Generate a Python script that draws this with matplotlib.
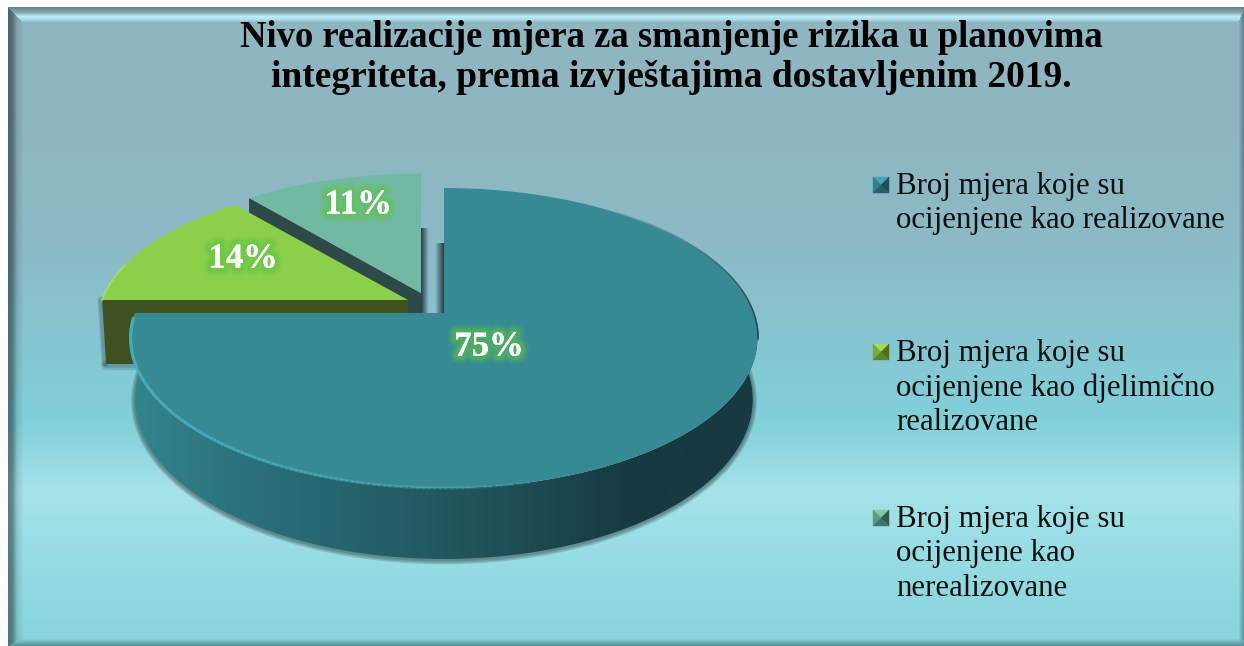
import numpy as np
import matplotlib
matplotlib.use("Agg")
import matplotlib.pyplot as plt
from matplotlib.patches import Polygon
from matplotlib.colors import LinearSegmentedColormap
import matplotlib.patheffects as pe

# ---------- data ----------
title_lines = ["Nivo realizacije mjera za smanjenje rizika u planovima",
               "integriteta, prema izvještajima dostavljenim 2019."]
categories = ["Broj mjera koje su\nocijenjene kao realizovane",
              "Broj mjera koje su\nocijenjene kao djelimično\nrealizovane",
              "Broj mjera koje su\nocijenjene kao\nnerealizovane"]
values = [75, 14, 11]
face_colors = ["#378a94", "#8ccf4b", "#72b9a4"]
wall_colors = [None, "#3d5220", "#2e4a48"]
legend_bevels = [("#4aa3b2", "#2f7f8c", "#1d4d55", "#25606a"),
                 ("#a5d85a", "#7aa83a", "#4f6e22", "#5f8329"),
                 ("#86c4b0", "#5c9a88", "#2f5a50", "#3f7567")]

W, H = 1244, 646
fig = plt.figure(figsize=(W / 100, H / 100), dpi=100, facecolor="white")
ax = fig.add_axes([0, 0, 1, 1])
ax.set_xlim(0, W)
ax.set_ylim(H, 0)
ax.axis("off")

# ---------- background with bevelled frame ----------
L, T, R, B = 8, 7, 1244, 646
wl, wt, wr, wb = 15.0, 15.0, 5.0, 7.0
stops_y = [0, 110, 250, 420, 490, 560, 646]
stops_c = np.array([[143, 181, 192], [143, 181, 192], [139, 187, 199],
                    [129, 208, 217], [166, 226, 233], [150, 220, 227], [135, 212, 221]], float)
yy = np.arange(H)
bg = np.stack([np.interp(yy, stops_y, stops_c[:, i]) for i in range(3)], axis=1)
img = np.repeat(bg[:, None, :], W, axis=1)
X, Y = np.meshgrid(np.arange(W), np.arange(H))
fl, ft, fr, fb = (X - L) / wl, (Y - T) / wt, (R - 1 - X) / wr, (B - 1 - Y) / wb
fmin = np.minimum.reduce([fl, ft, fr, fb])
mask = (fmin >= 0) & (fmin < 1)
top = mask & (ft == fmin)
left = mask & (fl == fmin) & ~top
right = mask & (fr == fmin) & ~top
bottom = mask & (fb == fmin) & ~top & ~left & ~right
c_top = np.interp(fmin, [0, 0.35, 0.6, 0.8, 1], [0.72, 0.95, 1.3, 1.22, 1.0])
c_left = np.interp(fmin, [0, 0.3, 0.55, 1], [0.55, 0.62, 0.88, 1.0])
c_right = np.interp(fmin, [0, 0.6, 1], [0.72, 0.88, 1.0])
c_bot = np.interp(fmin, [0, 0.5, 1], [0.68, 0.85, 1.0])
for m, c in ((top, c_top), (left, c_left), (right, c_right), (bottom, c_bot)):
    img[m] = np.clip(img[m] * c[m][:, None], 0, 255)
img[fmin < 0] = 255
ax.imshow(img.astype(np.uint8), extent=(0, W, H, 0), aspect="auto", zorder=0, interpolation="bilinear")


# ---------- perspective pie geometry ----------
K = 1 / 6
A, BB = 309.0, 145.8


def proj(theta_deg, cx, cy, a=A, b=BB):
    th = np.radians(theta_deg)
    u, v = np.sin(th), np.cos(th)
    d = 1 + K * v
    return np.column_stack([cx + a * u / d, cy - b * v / d])


cum = np.cumsum([0] + values) / sum(values) * 360
angles = [(cum[i], cum[i + 1]) for i in range(len(values))]


def arc(i, cx, cy, a=A, b=BB):
    return proj(np.linspace(angles[i][0], angles[i][1], 200), cx, cy, a, b)


apexes = [(444, 313), (408, 300), (421, 293)]
DEPTH = 64


def soft_line(pts, z, color="#2a3a40", widths=(7, 5, 3), alpha=0.18):
    for w in widths:
        ax.plot(pts[:, 0], pts[:, 1], color=color, lw=w, alpha=alpha, zorder=z,
                solid_capstyle="round", solid_joinstyle="round")


def hgrad(x0, x1, y0, y1, c0, a0, a1, z):
    rgba = np.zeros((1, 32, 4))
    rgba[..., :3] = matplotlib.colors.to_rgb(c0)
    rgba[..., 3] = np.linspace(a0, a1, 32)
    ax.imshow(rgba, extent=(x0, x1, y1, y0), aspect="auto", zorder=z, interpolation="bilinear")


# vertical shadows in the gap
hgrad(apexes[2][0], apexes[2][0] + 8, 228, 313, "#24343a", 0.95, 0.0, 1.0)
hgrad(apexes[0][0] - 9, apexes[0][0], 243, 313, "#24343a", 0.0, 0.95, 1.0)

# slice 3 (back)
ax3, ay3 = apexes[2]
edge3 = arc(2, ax3, ay3, A * 0.985, BB * 0.955)
start = edge3[0]
wall3 = np.array([[ax3, ay3], start, start + [0, DEPTH], [ax3, ay3 + DEPTH]])
ax.add_patch(Polygon(wall3, closed=True, fc=wall_colors[2], ec="none", zorder=2))
ax.add_patch(Polygon(np.vstack([[ax3, ay3], edge3]), closed=True, fc=face_colors[2], ec="none", zorder=2.1))

# slice 2 (left)
ax2, ay2 = apexes[1]
edge2 = arc(1, ax2, ay2, A * 0.99, BB * 0.955)
start = edge2[0]
wall2 = np.array([[ax2, ay2], start, start + [4, DEPTH], [ax2, ay2 + DEPTH]])
soft_line(wall2[1:3] + [-1, 0], 2.6, widths=(5, 3))
soft_line(wall2[2:4] + [0, 1], 2.6, widths=(7, 4))
ax.add_patch(Polygon(wall2, closed=True, fc=wall_colors[1], ec="none", zorder=3))
ax.add_patch(Polygon(np.vstack([[ax2, ay2], edge2]), closed=True, fc=face_colors[1], ec="none", zorder=3.1))
ax.plot(edge2[:60, 0], edge2[:60, 1], color="#a8e060", lw=1.5, alpha=0.8, zorder=3.2)

# slice 1 (main) wall
ax1, ay1 = apexes[0]
th_wall = np.linspace(70, angles[0][1], 300)
top_edge = proj(th_wall, ax1, ay1)
bot_edge = proj(th_wall, ax1, ay1 + 60, A * 0.985, 155.0)
wall1 = np.vstack([top_edge, bot_edge[::-1]])
soft_line(bot_edge + [0, 1], 3.4, color="#2a3a3c", widths=(6, 4, 2), alpha=0.2)
wall_cmap = LinearSegmentedColormap.from_list(
    "wall", ["#33858d", "#2a6f79", "#245f69", "#1f4f57", "#173a40", "#163a40"])
xs = np.linspace(0, 1, 256)[None, :]
im = ax.imshow(xs, extent=(wall1[:, 0].min(), wall1[:, 0].max(), 600, 300), cmap=wall_cmap,
               aspect="auto", zorder=3.5)
clip = Polygon(wall1, closed=True, transform=ax.transData, fc="none", ec="none")
ax.add_patch(clip)
im.set_clip_path(clip)

# slice 1 face
edge1 = arc(0, ax1, ay1)
th_dark = np.linspace(35, 100, 120)
dark = proj(th_dark, ax1, ay1)
for i in range(len(dark) - 1):
    ax.plot(dark[i:i + 2, 0], dark[i:i + 2, 1], color="#17383e", lw=2,
            alpha=0.6 * i / len(dark), zorder=3.9)
ax.add_patch(Polygon(np.vstack([[ax1, ay1], edge1]), closed=True, fc=face_colors[0], ec="none", zorder=4))

# rim highlight fading to the right along the front edge
th_rim = np.linspace(268, 165, 120)
rim = proj(th_rim, ax1, ay1)
for i in range(len(rim) - 1):
    a = 0.95 * (1 - i / len(rim)) ** 0.6
    ax.plot(rim[i:i + 2, 0], rim[i:i + 2, 1], color="#46aebd", lw=2.2, alpha=a, zorder=4.1,
            solid_capstyle="round")

# ---------- text ----------
FONT = "Liberation Serif"
ax.text(671, 37.5, title_lines[0], ha="center", va="center", fontsize=26.4, fontweight="bold",
        family=FONT, color="black", zorder=6)
ax.text(671, 77.5, title_lines[1], ha="center", va="center", fontsize=27.0, fontweight="bold",
        family=FONT, color="black", zorder=6)

label_xy = [(489, 347), (243, 259), (358, 205)]
glow = [pe.withStroke(linewidth=w, foreground="#5fc445", alpha=a)
        for w, a in ((12, 0.15), (9, 0.22), (6, 0.35))] + [pe.Normal()]
for v, (lx, ly) in zip(values, label_xy):
    ax.text(lx, ly, f"{v}%", ha="center", va="center", fontsize=25, fontweight="bold",
            family=FONT, color="white", zorder=6, path_effects=glow)

leg_y = [185, 352, 518]
lx0, ls = 873, 16
for lab, y0, (c_t, c_l, c_r, c_b) in zip(categories, leg_y, legend_bevels):
    cx, cy = lx0 + ls / 2, y0
    x0, x1, y_0, y_1 = lx0, lx0 + ls, y0 - ls / 2, y0 + ls / 2
    for pts, c in (([(x0, y_0), (x1, y_0), (cx, cy)], c_t),
                   ([(x0, y_0), (x0, y_1), (cx, cy)], c_l),
                   ([(x1, y_0), (x1, y_1), (cx, cy)], c_r),
                   ([(x0, y_1), (x1, y_1), (cx, cy)], c_b)):
        ax.add_patch(Polygon(pts, closed=True, fc=c, ec=c, lw=0.3, zorder=6))
    for j, line in enumerate(lab.split("\n")):
        ax.text(896, y0 + 1.5 + j * 34.3, line, ha="left", va="center", fontsize=22.2, family=FONT,
                color="#0a0f10", zorder=6)

ax.set_xlim(0, W)
ax.set_ylim(H, 0)
fig.savefig("out.png", dpi=100)
